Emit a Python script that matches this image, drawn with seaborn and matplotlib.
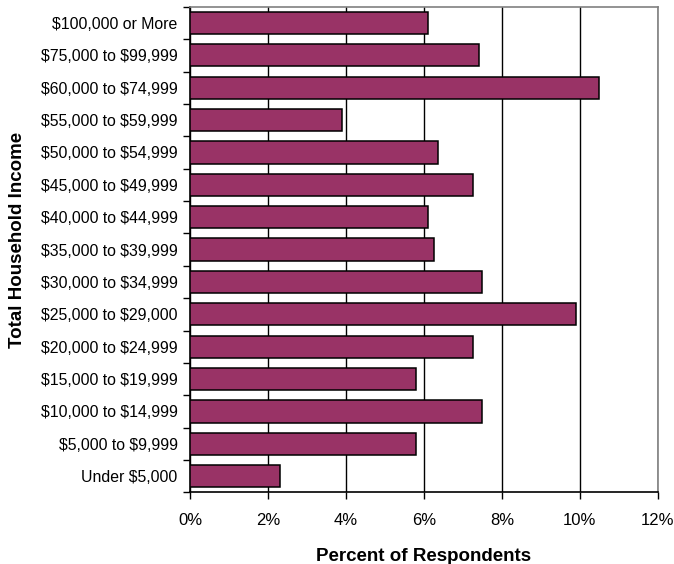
import matplotlib
matplotlib.use("Agg")
import matplotlib.pyplot as plt
from matplotlib.ticker import FixedLocator, FuncFormatter
import seaborn as sns
import pandas as pd

# income brackets, top to bottom as drawn
brackets = ["$100,000 or More", "$75,000 to $99,999", "$60,000 to $74,999",
            "$55,000 to $59,999", "$50,000 to $54,999", "$45,000 to $49,999",
            "$40,000 to $44,999", "$35,000 to $39,999", "$30,000 to $34,999",
            "$25,000 to $29,000", "$20,000 to $24,999", "$15,000 to $19,999",
            "$10,000 to $14,999", "$5,000 to $9,999", "Under $5,000"]
percent = [6.1, 7.4, 10.5, 3.9, 6.35, 7.25, 6.1, 6.25, 7.5, 9.9, 7.25, 5.8, 7.5, 5.8, 2.3]

df = pd.DataFrame({"bracket": brackets, "pct": percent})

sns.set_style("white")
plt.rcParams["font.family"] = ["Liberation Sans", "DejaVu Sans"]
plt.rcParams["text.parse_math"] = False
plt.rcParams["text.color"] = "black"
plt.rcParams["axes.labelcolor"] = "black"
plt.rcParams["xtick.color"] = "black"
plt.rcParams["ytick.color"] = "black"

fig = plt.figure(figsize=(6.74, 5.64), dpi=100)
ax = fig.add_axes([0.282, 0.127, 0.694, 0.861])

sns.barplot(data=df, x="pct", y="bracket", orient="h", color="#993366",
            saturation=1, width=0.69, edgecolor="black", linewidth=1.1, ax=ax, zorder=3)

ax.set_xlim(0, 12)
ax.set_xticks(range(0, 13, 2))
ax.xaxis.set_major_formatter(FuncFormatter(lambda v, p: f"{v:.0f}%"))
ax.grid(axis="x", color="black", linewidth=1, zorder=0)
ax.set_axisbelow(True)

# y ticks sit between the categories, labels at the centres
ax.set_ylim(len(brackets) - 0.5, -0.5)
ax.yaxis.set_minor_locator(FixedLocator([i - 0.5 for i in range(len(brackets) + 1)]))
ax.tick_params(axis="y", which="major", length=0, pad=9, labelsize=11.4)
ax.tick_params(axis="y", which="minor", length=5, width=1, color="black", direction="out", left=True)
ax.tick_params(axis="x", which="major", length=5, width=1, color="black", direction="out",
               bottom=True, pad=10, labelsize=12)

for s in ["left", "bottom"]:
    ax.spines[s].set_color("black")
    ax.spines[s].set_linewidth(1.2)
for s in ["top", "right"]:
    ax.spines[s].set_color("#808080")
    ax.spines[s].set_linewidth(1.2)

ax.set_xlabel("Percent of Respondents", fontsize=13.5, fontweight="bold", labelpad=14)
ax.set_ylabel("Total Household Income", fontsize=13.5, fontweight="bold")
ax.yaxis.set_label_coords(-0.35, 0.52)

fig.savefig("out.png", dpi=100)
